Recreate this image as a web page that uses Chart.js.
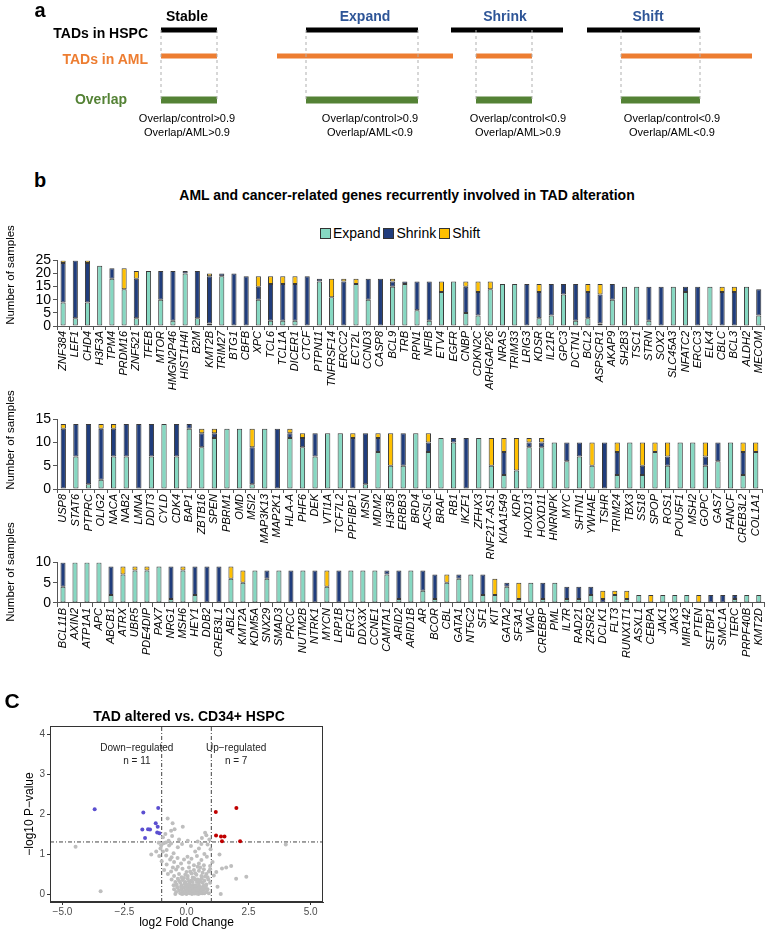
<!doctype html>
<html>
<head>
<meta charset="UTF-8">
<title>TAD alteration</title>
<script src="https://cdn.jsdelivr.net/npm/chart.js@4.4.0/dist/chart.umd.min.js"></script>
<style>
  body { margin: 0; background: #fff; font-family: "Liberation Sans", Arial, sans-serif; }
  #page { position: relative; width: 773px; height: 930px; overflow: hidden; }
  .box { position: absolute; }
  .t { position: absolute; white-space: nowrap; line-height: 1; }
  .legend { position: absolute; left: 320px; top: 225px; display: flex; align-items: center; font-size: 14px; }
  .legend span.sw { display: inline-block; width: 9px; height: 9px; border: 1px solid #333; margin-right: 2px; }
  .legend span.lb { margin-right: 3px; }
</style>
</head>
<body>
<div id="page">
  <div class="box" style="left:0;top:0;width:773px;height:150px"><canvas id="schema"></canvas></div>
  <div class="box" style="left:0;top:250px;width:773px;height:140px"><canvas id="row1"></canvas></div>
  <div class="box" style="left:0;top:409px;width:773px;height:150px"><canvas id="row2"></canvas></div>
  <div class="box" style="left:0;top:552px;width:773px;height:140px"><canvas id="row3"></canvas></div>
  <div class="box" style="left:22px;top:718px;width:320px;height:212px"><canvas id="volcano"></canvas></div>
  <div class="legend">
    <span class="sw" style="background:#86D8C2"></span><span class="lb">Expand</span>
    <span class="sw" style="background:#203D7C"></span><span class="lb">Shrink</span>
    <span class="sw" style="background:#FFC000"></span><span class="lb">Shift</span>
  </div>
</div>
<script>
var FONT = '"Liberation Sans", Arial, sans-serif';

// ---- panel a: schematic TAD spans (page px units) ----
var schemaTypes = ['Stable', 'Expand', 'Shrink', 'Shift'];
var schemaTypeX = [187, 365, 505, 648];
var hspcSpan = [[161, 217], [306, 418], [451, 563], [587, 700]];
var amlSpan = [[161, 217], [277, 453], [476, 532], [621, 752]];
var overlapSpan = [[161, 217], [306, 418], [476, 532], [621, 700]];
var trackY = [30, 56, 100];
var ratioText = [
  ['Overlap/control>0.9', 'Overlap/AML>0.9'],
  ['Overlap/control>0.9', 'Overlap/AML<0.9'],
  ['Overlap/control<0.9', 'Overlap/AML>0.9'],
  ['Overlap/control<0.9', 'Overlap/AML<0.9']
];
var ratioX = [187, 370, 518, 672];

// ---- panel b: genes and sample counts ----
var genes1 = ['ZNF384','LEF1','CHD4','H3F3A','TPM4','PRDM16','ZNF521','TFEB','MTOR','HMGN2P46','HIST1H4I','B2M','KMT2B','TRIM27','BTG1','CBFB','XPC','TCL6','TCL1A','DICER1','CTCF','PTPN11','TNFRSF14','ERCC2','ECT2L','CCND3','CASP8','BCL9','TRB','RPN1','NFIB','ETV4','EGFR','CNBP','CDKN2C','ARHGAP26','NRAS','TRIM33','LRIG3','KDSR','IL21R','GPC3','DCTN1','BCL2','ASPSCR1','AKAP9','SH2B3','TSC1','STRN','SOX2','SLC45A3','NFATC2','ERCC3','ELK4','CBLC','BCL3','ALDH2','MECOM'];
var expand1 = [9,3,9,23,18,14,3,21,10,2,20,3,1,19,0,0,10,2,2,2,0,17,11,0,16,10,0,15,16,6,2,13,17,5,4,14,16,16,0,3,4,12,2,3,1,10,15,15,2,0,15,13,0,15,0,0,15,4];
var shrink1 = [15,22,15,0,4,0,15,0,11,19,1,18,18,1,20,19,5,14,14,14,19,1,0,17,0,8,18,2,1,11,15,0,0,10,9,0,0,0,16,10,12,4,14,10,11,6,0,0,13,15,0,2,15,0,13,13,0,10];
var shift1  = [1,0,1,0,0,8,3,0,0,0,0,0,1,0,0,0,4,3,3,3,0,0,7,1,2,0,0,1,0,0,0,4,0,2,4,3,0,0,0,3,0,0,0,3,4,0,0,0,0,0,0,0,0,0,2,2,0,0];

var genes2 = ['USP8','STAT6','PTPRC','OLIG2','NACA','NAB2','LMNA','DDIT3','CYLD','CDK4','BAP1','ZBTB16','SPEN','PBRM1','OMD','MSI2','MAP3K13','MAP2K1','HLA-A','PHF6','DEK','VTI1A','TCF7L2','PPFIBP1','MSN','MDM2','H3F3B','ERBB3','BRD4','ACSL6','BRAF','RB1','IKZF1','ZFHX3','RNF217-AS1','KIAA1549','KDR','HOXD13','HOXD11','HNRNPK','MYC','SHTN1','YWHAE','TSHR','TRIM24','TBX3','SS18','SPOP','ROS1','POU5F1','MSH2','GOPC','GAS7','FANCF','CREB3L2','COL1A1'];
var expand2 = [0,7,1,2,7,7,0,7,14,7,13,9,11,13,13,1,13,0,11,9,7,12,12,0,1,8,5,5,12,8,11,10,0,11,5,3,4,9,9,10,6,7,5,0,3,10,3,8,5,10,10,5,6,10,3,8];
var shrink2 = [13,7,13,11,6,7,14,7,0,7,1,3,1,0,0,8,0,13,1,2,5,0,0,11,11,3,0,7,0,2,0,1,11,0,0,5,0,1,1,0,4,3,0,10,5,0,2,0,2,0,0,2,4,0,5,0];
var shift2  = [1,0,0,1,1,0,0,0,0,0,0,1,1,0,0,4,0,0,1,1,0,0,0,1,0,1,7,0,0,2,0,0,0,0,6,3,7,1,1,0,0,0,5,0,2,0,5,2,3,0,0,3,0,0,2,2];

var genes3 = ['BCL11B','AXIN2','ATP1A1','APC','ABCB1','ATRX','UBR5','PDE4DIP','PAX7','NRG1','MSH6','HEY1','DDB2','CREB3L1','ABL2','KMT2A','KDM5A','SNX29','SMAD3','PRCC','NUTM2B','NTRK1','MYCN','LRP1B','ERC1','DDX3X','CCNE1','CAMTA1','ARID2','ARID1B','AR','BCOR','CBL','GATA1','NT5C2','SF1','KIT','GATA2','SF3A1','WAC','CREBBP','PML','IL7R','RAD21','ZRSR2','DCLK1','FLT3','RUNX1T1','ASXL1','CEBPA','JAK1','JAK3','MIR142','PTEN','SETBP1','SMC1A','TERC','PRPF40B','KMT2D'];
var expand3 = [4,10,10,10,2,7,8,8,9,1,8,2,0,0,6,5,8,6,8,0,8,0,4,0,8,8,8,7,1,8,3,1,5,6,7,2,2,4,1,5,1,5,1,1,2,0,2,1,2,0,2,2,2,0,0,0,1,2,2];
var shrink3 = [6,0,0,0,7,0,0,0,0,8,0,7,9,9,0,0,0,2,0,8,0,8,0,8,0,0,0,1,7,0,5,6,0,1,0,5,0,1,0,0,4,0,3,3,2,1,0,0,0,0,0,0,0,0,2,2,1,0,0];
var shift3  = [0,0,0,0,0,2,1,1,0,0,1,0,0,0,3,3,0,0,0,0,0,0,4,0,0,0,0,0,0,0,0,0,2,0,0,0,4,0,4,0,0,0,0,0,0,2,1,2,0,2,0,0,0,2,0,0,0,0,0];

// ---- panel c: volcano points [log2FC, -log10 P] ----
var downGenes = [[-3.70,2.12],[-1.74,2.04],[-1.14,2.15],[-1.24,1.77],[-1.16,1.68],[-1.78,1.61],[-1.55,1.62],[-1.47,1.61],[-1.18,1.54],[-1.09,1.52],[-1.67,1.40]];
var upGenes = [[1.18,2.05],[2.01,2.15],[1.19,1.46],[1.39,1.44],[1.53,1.44],[1.43,1.32],[2.16,1.32]];
var otherGenes = [
  [-0.76,1.89],[-0.56,1.77],[-0.15,1.68],[-0.62,1.58],[-0.48,1.62],[-0.85,1.5],[-0.58,1.45],[0.75,1.53],[0.80,1.47],[0.62,1.40],
  [-0.3,1.36],[0.05,1.33],[-0.95,1.42],[0.92,1.36],[-0.72,1.33],[0.45,1.31],
  [-0.92,1.27],[-0.83,1.29],[-1.02,1.22],[-0.7,1.21],[-0.62,1.26],[-0.35,1.17],[-0.18,1.25],[0.18,1.2],[0.5,1.14],[0.85,1.24],
  [0.97,1.12],[-1.22,1.06],[-1.42,0.99],[-0.95,1.06],[-0.52,1.02],[0.35,1.06],[0.72,1.0],[1.33,0.99],[-4.47,1.18],[4.0,1.24],
  [-1.05,1.14],[-1.12,1.28],[-0.8,1.1],[0.6,1.25],
  [-1.1,0.95],[-0.82,0.96],[-0.6,0.92],[-0.36,0.9],[-0.1,0.86],[0.2,0.88],[0.42,0.95],[0.6,0.85],[0.82,0.93],[1.05,0.8],
  [-0.5,0.8],[-0.22,0.76],[0.1,0.79],[0.3,0.72],[0.5,0.76],[0.7,0.72],[0.95,0.7],[-0.8,0.74],[1.6,0.66],[1.8,0.7],
  [1.43,0.64],[-0.66,0.86],[0.04,0.93],[-1.0,0.82],
  [-0.9,0.6],[-0.62,0.56],[-0.42,0.61],[-0.3,0.5],[-0.16,0.63],[0,0.55],[0.1,0.66],[0.2,0.51],[0.3,0.6],[0.4,0.48],
  [0.5,0.58],[0.6,0.45],[0.7,0.62],[0.8,0.5],[0.9,0.56],[1.1,0.46],[-0.5,0.45],[-0.2,0.42],[0.05,0.45],[0.25,0.41],
  [0.45,0.68],[0.65,0.53],[0.85,0.42],[-0.75,0.5],[1.2,0.55],[2.0,0.38],[2.41,0.43],[-0.35,0.68],[0.15,0.56],[0.55,0.66],
  [-0.05,0.48],[0.35,0.52],[0.75,0.44],[-0.55,0.66],[0.95,0.62],
  [-0.6,0.36],[-0.45,0.3],[-0.35,0.38],[-0.25,0.28],[-0.15,0.35],[-0.05,0.3],[0.05,0.38],[0.12,0.27],[0.2,0.34],[0.28,0.22],
  [0.35,0.37],[0.42,0.3],[0.5,0.25],[0.58,0.36],[0.65,0.28],[0.72,0.33],[0.8,0.24],[0.88,0.36],[-0.52,0.22],[-0.4,0.24],
  [-0.2,0.21],[0.0,0.24],[0.16,0.21],[0.38,0.22],[0.55,0.32],[0.7,0.21],[0.95,0.28],[1.25,0.18],[-0.1,0.4],[0.3,0.4],
  [0.62,0.4],[-0.3,0.33],[0.45,0.36],[0.25,0.3],[0.1,0.32],[-0.08,0.26],
  [-0.5,0.12],[-0.42,0.05],[-0.35,0.15],[-0.3,0.08],[-0.25,0.02],[-0.2,0.12],[-0.15,0.06],[-0.1,0.17],[-0.05,0.1],[0,0.03],
  [0.05,0.14],[0.1,0.07],[0.15,0.18],[0.2,0.1],[0.25,0.03],[0.3,0.15],[0.35,0.08],[0.4,0.16],[0.45,0.04],[0.5,0.12],
  [0.55,0.07],[0.6,0.17],[0.65,0.02],[0.7,0.1],[0.75,0.15],[0.8,0.05],[0.85,0.12],[0.9,0.02],[-0.38,0.18],[-0.12,0.01],
  [0.08,0.19],[0.22,0.16],[0.32,0.01],[0.42,0.1],[0.52,0.18],[0.62,0.09],[0.72,0.02],[-0.02,0.2],[0.18,0.04],[0.38,0.13],
  [0.58,0.02],[0.78,0.18],[-0.22,0.18],[0.12,0.12],[0.28,0.09],[0.48,0.0],[0.68,0.14],[-0.45,0.0],[0.02,0.08],[0.34,0.2],
  [1.38,0.0],[-3.46,0.07],[0.0,0.0],[0.22,0.0],[-0.18,0.0],[0.12,0.02],[0.4,0.01]
];
var fcCutoff = 1;
var pCutoff = -Math.log10(0.05);
var xTicks = [-5, -2.5, 0, 2.5, 5];
var yTicks = [0, 1, 2, 3, 4];

var colExpand = '#86D8C2', colShrink = '#203D7C', colShift = '#FFC000';

// ---- text helper ----
var page = document.getElementById('page');
function text(str, x, y, css, anchor, rot) {
  var d = document.createElement('div');
  d.className = 't';
  d.textContent = str;
  d.style.cssText += css;
  d.style.left = x + 'px';
  d.style.top = y + 'px';
  var tx = anchor === 'r' ? '-100%' : anchor === 'l' ? '0' : '-50%';
  d.style.transform = 'translate(' + tx + ',-50%)' + (rot ? ' rotate(' + rot + 'deg)' : '');
  page.appendChild(d);
}

text('a', 40, 10, 'font-weight:bold;font-size:20px;');
schemaTypes.forEach(function (s, i) {
  text(s, schemaTypeX[i], 16, 'font-weight:bold;font-size:14px;color:' + (i === 0 ? '#000' : '#2E5597') + ';');
});
text('TADs in HSPC', 148, 33, 'font-weight:bold;font-size:14px;color:#000;', 'r');
text('TADs in AML', 148, 59, 'font-weight:bold;font-size:14px;color:#ED7D31;', 'r');
text('Overlap', 101, 99, 'font-weight:bold;font-size:14px;color:#548235;');
ratioText.forEach(function (r, i) {
  text(r[0], ratioX[i], 118, 'font-size:11px;');
  text(r[1], ratioX[i], 132, 'font-size:11px;');
});
text('b', 40, 180, 'font-weight:bold;font-size:20px;');
text('AML and cancer-related genes recurrently involved in TAD alteration', 407, 195, 'font-weight:bold;font-size:14px;');
[275, 440, 572].forEach(function (y) {
  text('Number of samples', 11, y, 'font-size:11.5px;', 'c', -90);
});
text('C', 12, 700, 'font-weight:bold;font-size:21px;');
text('TAD altered vs. CD34+ HSPC', 189, 716, 'font-weight:bold;font-size:14px;');

// ---- schematic chart ----
function seg(span, y, color, width) {
  return {
    data: [{x: span[0], y: y}, {x: span[1], y: y}],
    borderColor: color, borderWidth: width,
    pointRadius: 0, showLine: true, borderCapStyle: 'butt', clip: false
  };
}
function guide(x) {
  return {
    data: [{x: x, y: trackY[0]}, {x: x, y: trackY[2]}],
    borderColor: '#AFAFAF', borderWidth: 1, borderDash: [3, 3], pointRadius: 0, showLine: true, clip: false
  };
}
var schemaSets = [];
overlapSpan.forEach(function (s) { schemaSets.push(guide(s[0]), guide(s[1])); });
hspcSpan.forEach(function (s) { schemaSets.push(seg(s, trackY[0], '#000', 5)); });
amlSpan.forEach(function (s) { schemaSets.push(seg(s, trackY[1], '#ED7D31', 5)); });
overlapSpan.forEach(function (s) { schemaSets.push(seg(s, trackY[2], '#548235', 7)); });

new Chart(document.getElementById('schema'), {
  type: 'scatter',
  data: {datasets: schemaSets},
  options: {
    responsive: true, maintainAspectRatio: false, animation: false,
    layout: {padding: 0},
    plugins: {legend: {display: false}, tooltip: {enabled: false}},
    scales: {
      x: {type: 'linear', display: false, min: 0, max: 773},
      y: {type: 'linear', display: false, min: 0, max: 150, reverse: true}
    }
  }
});

// ---- stacked bar charts ----
function barChart(id, genes, expand, shrink, shift, yMax, plotRight, xHeight) {
  var nz = function (a) { return a.map(function (v) { return v === 0 ? null : v; }); };
  return new Chart(document.getElementById(id), {
    type: 'bar',
    data: {
      labels: genes,
      datasets: [
        {label: 'Expand', data: nz(expand), backgroundColor: colExpand},
        {label: 'Shrink', data: nz(shrink), backgroundColor: colShrink},
        {label: 'Shift', data: nz(shift), backgroundColor: colShift}
      ]
    },
    options: {
      responsive: true, maintainAspectRatio: false, animation: false,
      layout: {padding: {top: 8, right: 773 - plotRight, left: 0, bottom: 0}},
      datasets: {bar: {borderColor: '#3a3a3a', borderWidth: 1, borderSkipped: false, barPercentage: 0.42, categoryPercentage: 1}},
      plugins: {legend: {display: false}, tooltip: {enabled: false}},
      scales: {
        x: {
          stacked: true,
          grid: {drawOnChartArea: false, tickLength: 4, color: '#555'},
          border: {color: '#555'},
          ticks: {autoSkip: false, maxRotation: 90, minRotation: 90, padding: 1, color: '#000',
                  font: {size: 11, style: 'italic', family: FONT}},
          afterFit: function (s) { s.height = xHeight; }
        },
        y: {
          stacked: true, min: 0, max: yMax,
          ticks: {stepSize: 5, autoSkip: false, color: '#000', padding: 2, font: {size: 14, family: FONT}},
          grid: {drawOnChartArea: false, tickLength: 4, color: '#555'},
          border: {color: '#555'},
          afterFit: function (s) { s.width = 57; }
        }
      }
    }
  });
}
barChart('row1', genes1, expand1, shrink1, shift1, 25, 766, 64);
barChart('row2', genes2, expand2, shrink2, shift2, 15, 762, 70);
barChart('row3', genes3, expand3, shrink3, shift3, 10, 768, 89);

// ---- volcano ----
function pts(a) { return a.map(function (p) { return {x: p[0], y: p[1]}; }); }
var xMin = -5.5, xMax = 5.5, yMin = -0.2, yMax = 4.2;
var cutLine = {borderColor: '#444', borderWidth: 1, borderDash: [4, 2, 1, 2], pointRadius: 0, showLine: true};
var notes = [
  {x: -2.0, y: 3.65, text: 'Down\u2212regulated'},
  {x: -2.0, y: 3.33, text: 'n = ' + downGenes.length},
  {x: 2.0, y: 3.65, text: 'Up\u2212regulated'},
  {x: 2.0, y: 3.33, text: 'n = ' + upGenes.length}
];
var volcanoDecor = {
  id: 'volcanoDecor',
  afterDatasetsDraw: function (chart) {
    var ctx = chart.ctx, a = chart.chartArea, sx = chart.scales.x, sy = chart.scales.y;
    ctx.save();
    ctx.font = '10px ' + FONT;
    ctx.fillStyle = '#222';
    ctx.textAlign = 'center';
    ctx.textBaseline = 'middle';
    notes.forEach(function (n) { ctx.fillText(n.text, sx.getPixelForValue(n.x), sy.getPixelForValue(n.y)); });
    ctx.strokeStyle = '#333';
    ctx.lineWidth = 1;
    ctx.strokeRect(a.left + 0.5, a.top + 0.5, a.width - 1, a.height - 1);
    ctx.restore();
  }
};
function minusFmt(v) { return (v < 0 ? '\u2212' : '') + Math.abs(v).toFixed(1); }

new Chart(document.getElementById('volcano'), {
  type: 'scatter',
  data: {
    datasets: [
      {data: pts(otherGenes), backgroundColor: '#BEBEBE', borderWidth: 0, pointRadius: 2},
      {data: pts(downGenes), backgroundColor: '#5B4FD0', borderWidth: 0, pointRadius: 2},
      {data: pts(upGenes), backgroundColor: '#C00000', borderWidth: 0, pointRadius: 2},
      Object.assign({data: [{x: -fcCutoff, y: yMin}, {x: -fcCutoff, y: yMax}]}, cutLine),
      Object.assign({data: [{x: fcCutoff, y: yMin}, {x: fcCutoff, y: yMax}]}, cutLine),
      Object.assign({data: [{x: xMin, y: pCutoff}, {x: xMax, y: pCutoff}]}, cutLine)
    ]
  },
  plugins: [volcanoDecor],
  options: {
    responsive: true, maintainAspectRatio: false, animation: false,
    layout: {padding: {top: 8, right: 19, left: 0, bottom: 0}},
    plugins: {legend: {display: false}, tooltip: {enabled: false}},
    scales: {
      x: {
        type: 'linear', min: xMin, max: xMax,
        afterBuildTicks: function (s) { s.ticks = xTicks.map(function (v) { return {value: v}; }); },
        ticks: {color: '#4D4D4D', padding: 1, font: {size: 10, family: FONT}, callback: minusFmt},
        grid: {drawOnChartArea: false, tickLength: 3, color: '#333'},
        border: {color: '#333'},
        title: {display: true, text: 'log2 Fold Change', color: '#000', padding: 0, font: {size: 12, family: FONT}},
        afterFit: function (s) { s.height = 28; }
      },
      y: {
        type: 'linear', min: yMin, max: yMax,
        afterBuildTicks: function (s) { s.ticks = yTicks.map(function (v) { return {value: v}; }); },
        ticks: {color: '#4D4D4D', padding: 2, font: {size: 10, family: FONT}},
        grid: {drawOnChartArea: false, tickLength: 3, color: '#333'},
        border: {color: '#333'},
        title: {display: true, text: '\u2212log10 P\u2212value', color: '#000', padding: 0, font: {size: 12, family: FONT}},
        afterFit: function (s) { s.width = 28; }
      }
    }
  }
});
</script>
</body>
</html>
